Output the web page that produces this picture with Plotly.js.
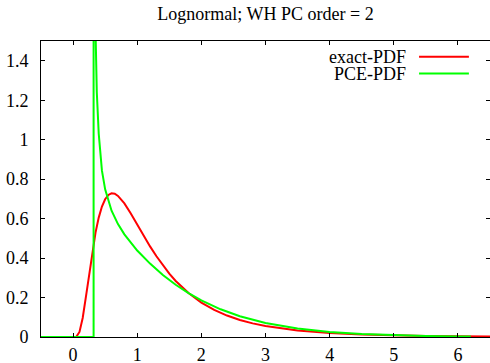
<!DOCTYPE html>
<html>
<head>
<meta charset="utf-8">
<script src="https://cdn.plot.ly/plotly-3.0.1.min.js"></script>
<style>html,body{margin:0;padding:0;background:#fff;}#chart{width:490px;height:363px;}</style>
</head>
<body>
<div id="chart"></div>
<script>
// exact lognormal PDF
var exactX = [-0.5, 0, 0.05, 0.1, 0.15, 0.2, 0.25, 0.3, 0.35, 0.4, 0.45, 0.5, 0.55, 0.6, 0.65, 0.7, 0.8, 0.9, 1.0, 1.1, 1.2, 1.3, 1.4, 1.5, 1.6, 1.8, 2.0, 2.2, 2.4, 2.6, 2.8, 3.0, 3.5, 4.0, 4.5, 5.0, 5.5, 6.0, 6.5];
var exactY = [0, 0, 0.0012, 0.0255, 0.0965, 0.203, 0.321, 0.433, 0.529, 0.605, 0.661, 0.698, 0.720, 0.728, 0.726, 0.715, 0.677, 0.626, 0.570, 0.513, 0.459, 0.409, 0.363, 0.321, 0.284, 0.2225, 0.1745, 0.1374, 0.1086, 0.0863, 0.0690, 0.0554, 0.0328, 0.0200, 0.0126, 0.0081, 0.0053, 0.0036, 0.0025];

// PCE-PDF
var pceX = [-0.5, 0.32, 0.32, 0.33, 0.34, 0.35, 0.37, 0.4, 0.45, 0.5, 0.6, 0.7, 0.8, 0.9, 1.0, 1.2, 1.4, 1.6, 1.8, 2.0, 2.3, 2.6, 3.0, 3.5, 4.0, 4.5, 5.0, 5.5, 6.0, 6.2];
var pceY = [0, 0, 3.0, 2.6, 1.88, 1.556, 1.24, 1.03, 0.843, 0.7485, 0.640, 0.572, 0.520, 0.477, 0.438, 0.372, 0.314, 0.265, 0.222, 0.1855, 0.1404, 0.1053, 0.0709, 0.0425, 0.0251, 0.0146, 0.0084, 0.0048, 0.0027, 0.0021];

var seriesNames = ["exact-PDF", "PCE-PDF"];
var seriesColors = ["#ff0000", "#00ff00"];

var xTicks = [0, 1, 2, 3, 4, 5, 6];
var yTicks = [0, 0.2, 0.4, 0.6, 0.8, 1, 1.2, 1.4];
var yTickLabels = ["0", "0.2", "0.4", "0.6", "0.8", "1", "1.2", "1.4"];

var FONT = "'Liberation Serif', 'DejaVu Serif', serif";

var traces = [
  {x: exactX, y: exactY, mode: "lines", name: seriesNames[0], line: {color: seriesColors[0], width: 2}, showlegend: false},
  {x: pceX, y: pceY, mode: "lines", name: seriesNames[1], line: {color: seriesColors[1], width: 2}, showlegend: false}
];

var axisCommon = {
  showline: true, linecolor: "#000", linewidth: 1, mirror: "ticks",
  ticks: "inside", ticklen: 4, tickwidth: 1, tickcolor: "#000",
  showgrid: false, zeroline: false,
  tickfont: {family: FONT, size: 18, color: "#000"}
};

var legendY = [0.947, 0.890];
var annotations = [];
var shapes = [];
for (var i = 0; i < seriesNames.length; i++) {
  annotations.push({xref: "paper", yref: "paper", x: 0.818, y: legendY[i], xanchor: "right", yanchor: "middle",
    text: seriesNames[i], showarrow: false, font: {family: FONT, size: 18, color: "#000"}});
  shapes.push({type: "line", xref: "paper", yref: "paper", x0: 0.842, x1: 0.953, y0: legendY[i], y1: legendY[i],
    line: {color: seriesColors[i], width: 2}});
}

var layout = {
  width: 490, height: 363,
  margin: {l: 41, r: 0, t: 41, b: 26},
  paper_bgcolor: "#fff", plot_bgcolor: "#fff",
  font: {family: FONT, size: 18, color: "#000"},
  title: {text: "Lognormal; WH PC order = 2", font: {family: FONT, size: 18, color: "#000"},
    x: 0.5, xref: "paper", xanchor: "center", y: 0.961, yref: "container", yanchor: "middle"},
  xaxis: Object.assign({}, axisCommon, {range: [-0.5, 6.5], tickvals: xTicks, ticklabelstandoff: 1}),
  yaxis: Object.assign({}, axisCommon, {range: [0, 1.5], tickvals: yTicks, ticktext: yTickLabels, ticklabelstandoff: 8}),
  annotations: annotations,
  shapes: shapes,
  showlegend: false
};

Plotly.newPlot("chart", traces, layout, {displayModeBar: false, staticPlot: true});
</script>
</body>
</html>
